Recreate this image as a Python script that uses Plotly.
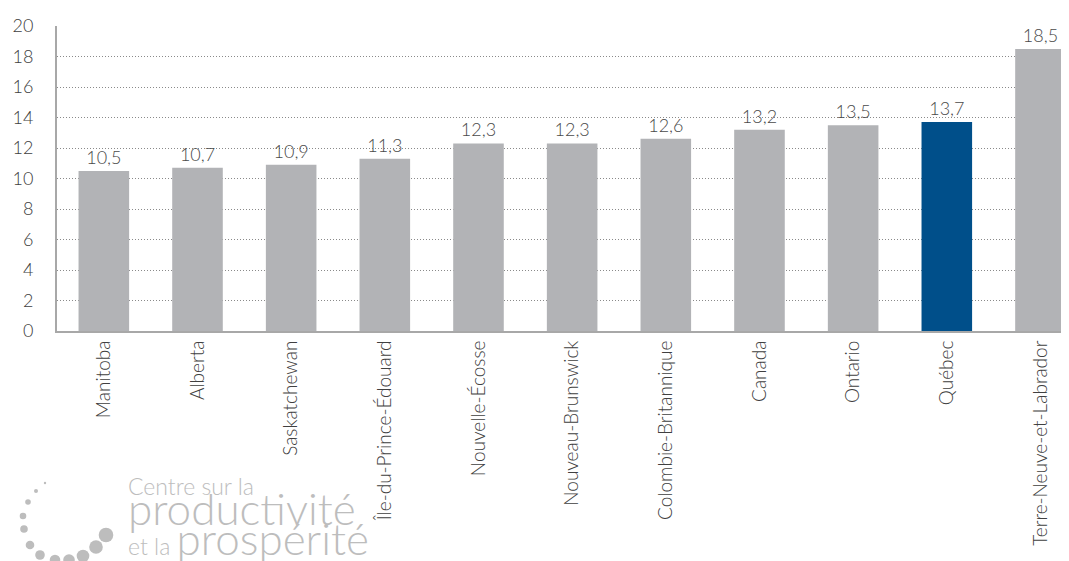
import plotly.graph_objects as go

provinces = [
    "Manitoba", "Alberta", "Saskatchewan", "Île-du-Prince-Édouard",
    "Nouvelle-Écosse", "Nouveau-Brunswick", "Colombie-Britannique",
    "Canada", "Ontario", "Québec", "Terre-Neuve-et-Labrador",
]
values = [10.5, 10.7, 10.9, 11.3, 12.3, 12.3, 12.6, 13.2, 13.5, 13.7, 18.5]
highlight = "Québec"

y_ticks = list(range(0, 21, 2))

W, H = 1069, 561
L, T, B = 49, 18, 238   # margins in px


def px(x, y):
    # page pixels -> paper coords
    return (x - L) / (W - L), (H - B - y) / (H - T - B)


bar_colors = ["#004F8A" if p == highlight else "#B2B3B6" for p in provinces]

fig = go.Figure()

fig.add_trace(
    go.Bar(
        x=provinces,
        y=values,
        marker_color=bar_colors,
        marker_line_width=0,
        text=[f"{v:.1f}".replace(".", ",") for v in values],
        textposition="outside",
        textfont=dict(family="Lato", size=18, color="#4A4A4A", weight=300),
        cliponaxis=False,
        width=0.54,
    )
)

# logo (decoration)
logo_gray = "#BDBDBD"
dots = [
    (37, 475, 1.2), (28, 483, 2), (20, 494, 2.8), (15, 508, 3.3),
    (16, 521, 3.8), (22, 537, 4.3), (32, 547, 4.8), (47, 552, 5.3),
    (61, 552, 5.8), (75, 548, 6.3), (88, 539, 6.8), (98, 527, 7.3),
]
shapes = []
for cx, cy, r in dots:
    x0, y0 = px(cx - r, cy + r)
    x1, y1 = px(cx + r, cy - r)
    shapes.append(dict(type="circle", xref="paper", yref="paper",
                       x0=x0, y0=y0, x1=x1, y1=y1,
                       fillcolor=logo_gray, line_width=0, layer="above"))

logo_text = (
    "<span style='font-size:23px'>Centre sur la</span><br>"
    "<span style='font-size:44px'>productivité</span><br>"
    "<span style='font-size:23px'>et la </span>"
    "<span style='font-size:44px'>prospérité</span>"
)
lx, ly = px(118, 462)

fig.update_layout(
    width=W,
    height=H,
    margin=dict(l=L, r=0, t=T, b=B),
    plot_bgcolor="white",
    paper_bgcolor="white",
    showlegend=False,
    bargap=0.46,
    separators=", ",
    shapes=shapes,
    annotations=[dict(text=logo_text, x=lx, y=ly, xref="paper", yref="paper",
                      xanchor="left", yanchor="top", align="left",
                      showarrow=False,
                      font=dict(family="Lato", size=23, color=logo_gray,
                                weight=300))],
    xaxis=dict(
        range=[-0.5, 10.39],
        tickangle=-90,
        tickfont=dict(family="Lato", size=19, color="#404040", weight=300),
        showline=True,
        linecolor="#A8A8A8",
        linewidth=2,
        ticks="",
        showgrid=False,
    ),
    yaxis=dict(
        range=[0, 20],
        tickvals=y_ticks,
        tickfont=dict(family="Lato", size=18, color="#404040", weight=300),
        showline=True,
        linecolor="#A8A8A8",
        linewidth=2,
        ticks="",
        ticklabelstandoff=18,
        showgrid=True,
        gridcolor="#8A8A8A",
        griddash="1px,2px",
        gridwidth=1,
        zeroline=False,
    ),
)

fig.write_html("out.html")
